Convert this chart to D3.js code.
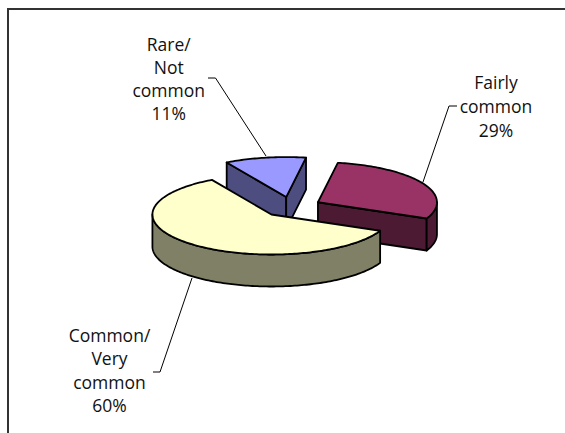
<!DOCTYPE html>
<html>
<head>
<meta charset="utf-8">
<script src="https://cdn.jsdelivr.net/npm/d3@7"></script>
<style>
  html, body { margin: 0; padding: 0; background: #fff; }
  svg { display: block; }
</style>
</head>
<body>
<svg id="chart" width="565" height="433"></svg>
<script>
// Values
const categories = ["Fairly common", "Common/ Very common", "Rare/ Not common"];
const shares = [29, 60, 11];
const labelLines = [
    ["Fairly", "common", "29%"],
    ["Common/", "Very", "common", "60%"],
    ["Rare/", "Not", "common", "11%"]
];
const topColors = ["#993366", "#ffffcc", "#9999ff"];
const wallColors = ["#4d1a33", "#808066", "#4d4d80"];

// Pie layout, tilted and pulled apart
const center = { x: 291.5, y: 207 };
const rx = 119, ry = 40, depth = 32, explode = 30;
const firstAngle = 9.6 * Math.PI / 180;

const svg = d3.select("#chart");

// Frame runs off the right and bottom of the crop
svg.append("path")
    .attr("d", "M8,433V9H565")
    .attr("fill", "none")
    .attr("stroke", "#333")
    .attr("stroke-width", 2);

const slices = d3.pie().sort(null).startAngle(firstAngle).endAngle(firstAngle + 2 * Math.PI)(shares);

// d3.pie angles start at 12 o'clock, project them onto the tilted ellipse
function project(a, c, r = 1, drop = 0) {
    return [c.x + r * rx * Math.sin(a), c.y - r * ry * Math.cos(a) + drop];
}

const line = d3.line();

function arcPoints(a0, a1, c, drop) {
    const n = Math.max(2, Math.ceil((a1 - a0) / 0.02));
    return d3.range(n + 1).map(i => project(a0 + (a1 - a0) * i / n, c, 1, drop));
}

const pieces = slices.map(s => {
    const mid = (s.startAngle + s.endAngle) / 2;
    return { ...s, c: { x: project(mid, center, explode / rx)[0], y: project(mid, center, explode / rx)[1] } };
});

// Back to front: rare, fairly, common
const order = [2, 0, 1];
order.forEach(i => {
    const s = pieces[i];
    const g = svg.append("g")
        .attr("stroke", "#000")
        .attr("stroke-width", 1.8)
        .attr("stroke-linejoin", "round");

    // Flat walls, only the ones facing the viewer
    const walls = [];
    if (Math.sin(s.startAngle) < 0) walls.push(s.startAngle);
    if (Math.sin(s.endAngle) > 0) walls.push(s.endAngle);
    walls.forEach(a => {
        g.append("path")
            .attr("d", line([
                project(a, s.c, 0), project(a, s.c), project(a, s.c, 1, depth), project(a, s.c, 0, depth)
            ]) + "Z")
            .attr("fill", wallColors[i]);
    });

    // Curved wall where the rim faces the viewer (90deg to 270deg from the top)
    const lo = Math.max(s.startAngle, Math.PI / 2);
    const hi = Math.min(s.endAngle, 3 * Math.PI / 2);
    if (hi > lo) {
        const pts = arcPoints(lo, hi, s.c, 0).concat(arcPoints(lo, hi, s.c, depth).reverse());
        g.append("path").attr("d", line(pts) + "Z").attr("fill", wallColors[i]);
    }

    // Top face
    const top = [project(0, s.c, 0)].concat(arcPoints(s.startAngle, s.endAngle, s.c, 0));
    g.append("path").attr("d", line(top) + "Z").attr("fill", topColors[i]);
});

// Leader lines, they stop at the pie rim
const leaderLines = [
    [[457, 106], [449, 106], [423, 182]],
    [[153, 372], [160, 372], [192, 278]],
    [[208, 78], [215.5, 78], [266, 156]]
];
svg.append("g")
    .selectAll("path")
    .data(leaderLines)
    .join("path")
    .attr("d", d => line(d))
    .attr("fill", "none")
    .attr("stroke", "#000")
    .attr("stroke-width", 1);

// Labels, first baseline and line gap of each block
const labelAnchors = [[496, 88.5, 24], [109.5, 342, 23.4], [168.7, 50.5, 23]];
svg.append("g")
    .attr("font-family", "'Open Sans', sans-serif")
    .attr("font-size", 17.5)
    .attr("fill", "#111")
    .attr("text-anchor", "middle")
    .selectAll("text")
    .data(labelLines.flatMap((lines, i) => lines.map((t, j) => ({
        t,
        x: labelAnchors[i][0],
        y: labelAnchors[i][1] + j * labelAnchors[i][2]
    }))))
    .join("text")
    .attr("x", d => d.x)
    .attr("y", d => d.y)
    .text(d => d.t);
</script>
</body>
</html>
